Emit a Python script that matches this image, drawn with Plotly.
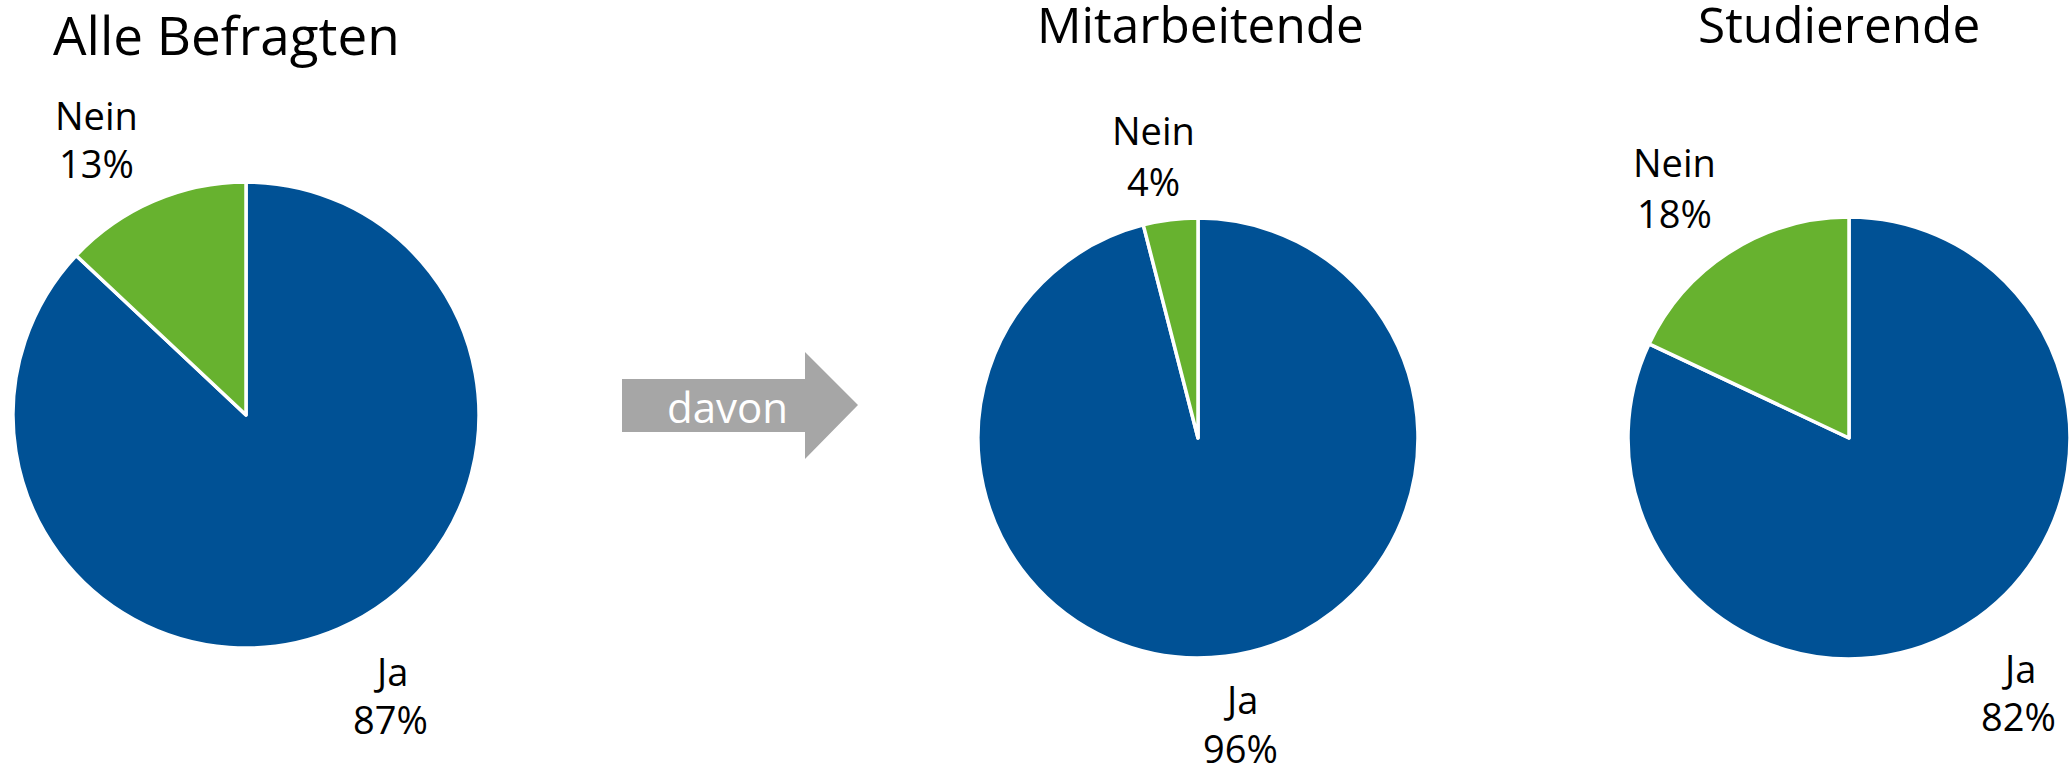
import plotly.graph_objects as go

# ---- data ----
groups = ["Alle Befragten", "Mitarbeitende", "Studierende"]
categories = ["Ja", "Nein"]
ja_values = [87, 96, 82]
nein_values = [13, 4, 18]
arrow_text = "davon"

colors = ["#005195", "#67B22F"]

W, H = 2071, 766
FONT = "Open Sans"


def px(x):
    return x / W


def py(y):
    return 1 - y / H


# pie geometry in pixels (center x, center y, radius)
pie_geom = [(246, 415, 233), (1198, 438, 220), (1849, 438, 221)]

fig = go.Figure()
for g, ja, nein, (cx, cy, r) in zip(groups, ja_values, nein_values, pie_geom):
    fig.add_trace(go.Pie(
        labels=categories,
        values=[ja, nein],
        name=g,
        sort=False,
        direction="clockwise",
        rotation=0,
        textinfo="none",
        hoverinfo="label+percent",
        marker=dict(colors=colors, line=dict(color="white", width=3.5)),
        domain=dict(x=[px(cx - r), px(cx + r)], y=[py(cy + r), py(cy - r)]),
        showlegend=False,
    ))

annotations = []


def mid(baseline, size):
    return baseline - 0.357 * size


# titles: (x, baseline, anchor, size)
title_pos = [(51, 53, "left", 53), (1200, 42, "center", 49.5), (1839, 42, "center", 49.5)]
for g, (x, base, anchor, size) in zip(groups, title_pos):
    annotations.append(dict(
        text=g, x=px(x), y=py(mid(base, size)), xref="paper", yref="paper",
        xanchor=anchor, yanchor="middle", showarrow=False,
        font=dict(family=FONT, size=size, color="black"),
    ))

# slice labels: (center x, baseline of first line, baseline of second line)
LS = 38
nein_pos = [(96, 129, 177), (1153, 144, 195), (1674, 176, 227)]
ja_pos = [(390, 685, 733), (1240, 713, 762), (2018, 682, 730)]
for i in range(len(groups)):
    for lab, val, (x, b1, b2) in ((categories[1], nein_values[i], nein_pos[i]),
                                  (categories[0], ja_values[i], ja_pos[i])):
        for txt, b in ((lab, b1), (f"{val}%", b2)):
            annotations.append(dict(
                text=txt, x=px(x), y=py(mid(b, LS)), xref="paper", yref="paper",
                xanchor="center", yanchor="middle", showarrow=False,
                font=dict(family=FONT, size=LS, color="black"),
            ))

# arrow text
annotations.append(dict(
    text=arrow_text, x=px(727), y=py(mid(421, 42)), xref="paper", yref="paper",
    xanchor="center", yanchor="middle", showarrow=False,
    font=dict(family=FONT, size=42, color="white"),
))

# arrow shape
pts = [(622, 379), (805, 379), (805, 352), (858, 405), (805, 459), (805, 432), (622, 432)]
path = "M " + " L ".join(f"{px(x):.5f},{py(y):.5f}" for x, y in pts) + " Z"
shapes = [dict(type="path", path=path, xref="paper", yref="paper",
               fillcolor="#A6A6A6", line=dict(width=0), layer="below")]

fig.update_layout(
    width=W, height=H,
    margin=dict(l=0, r=0, t=0, b=0),
    paper_bgcolor="white", plot_bgcolor="white",
    annotations=annotations,
    shapes=shapes,
    font=dict(family=FONT),
)

fig.write_html(
    "out.html",
    config={"displayModeBar": False},
    post_script="document.body.style.margin='0';document.body.style.overflow='hidden';",
)
